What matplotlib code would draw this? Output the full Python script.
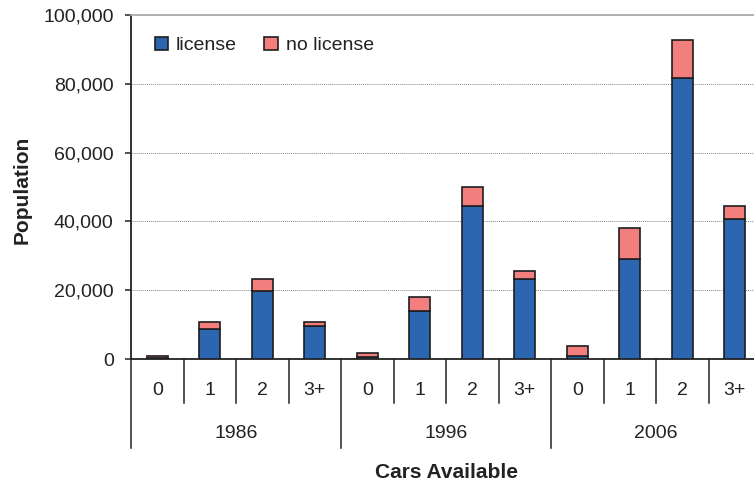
import matplotlib
matplotlib.use("Agg")
import matplotlib.pyplot as plt
import numpy as np
from matplotlib.transforms import blended_transform_factory

plt.rcParams['font.family'] = ['Liberation Sans', 'DejaVu Sans']

years = ["1986", "1996", "2006"]
cars = ["0", "1", "2", "3+"]
license = [400, 8600, 19900, 9600,
           700, 14000, 44400, 23200,
           900, 29100, 81800, 40700]
no_license = [500, 2200, 3400, 1200,
              1000, 3900, 5600, 2300,
              2900, 8900, 10900, 3800]

blue = '#2D66B0'
pink = '#F37E7E'
edge = '#1e1e1e'

fig = plt.figure(figsize=(7.54, 4.87), dpi=100)
ax = fig.add_axes([131/754, 128/487, 630/754, 344/487])

n = len(license)
x = np.arange(n)
ax.bar(x, license, width=0.4, color=blue, edgecolor=edge, linewidth=1.2, label='license', zorder=3)
ax.bar(x, no_license, width=0.4, bottom=license, color=pink, edgecolor=edge, linewidth=1.2,
       label='no license', zorder=3)

ax.set_xlim(-0.5, n - 0.5)
ax.set_ylim(0, 100000)
ax.set_yticks(np.arange(0, 100001, 20000))
ax.set_yticklabels([f"{v:,}" for v in range(0, 100001, 20000)])
ax.tick_params(axis='y', length=4.5, width=1.1, pad=8, labelsize=14, colors='#222222')
ax.tick_params(axis='x', bottom=False, labelbottom=False)
for v in range(20000, 100000, 20000):
    ax.axhline(v, color='#888888', linestyle=(0, (1, 1)), linewidth=0.7, zorder=1)

ax.spines['left'].set_color('#222222')
ax.spines['left'].set_linewidth(1.3)
ax.spines['bottom'].set_color('#222222')
ax.spines['bottom'].set_linewidth(1.3)
ax.spines['top'].set_color('#aaaaaa')
ax.spines['top'].set_linewidth(1.3)
ax.spines['right'].set_visible(False)

trans = blended_transform_factory(ax.transData, ax.transAxes)
ng = len(cars)
for i in range(n + 1):
    bx = i - 0.5
    if i % ng == 0:
        y0 = -0.259
    else:
        y0 = -0.128
    ax.plot([bx, bx], [0, y0], transform=trans, color='#222222', lw=1.1, clip_on=False)
for i in range(n):
    ax.text(i, -0.092, cars[i % ng], transform=trans, ha='center', va='center',
            fontsize=14, color='#222222')
for g, yr in enumerate(years):
    ax.text(g * ng + (ng - 1) / 2, -0.218, yr, transform=trans, ha='center', va='center',
            fontsize=14, color='#222222')

fig.text(446/754, 1 - 473/487, "Cars Available", ha='center', va='center',
         fontsize=15, fontweight='bold', color='#222222')
fig.text(22/754, 1 - 190/487, "Population", ha='center', va='center', rotation=90,
         fontsize=15, fontweight='bold', color='#222222')

leg = ax.legend(loc='upper left', bbox_to_anchor=(0.025, 0.96), ncol=2, frameon=False,
                fontsize=14, handlelength=0.7, handleheight=0.7, handletextpad=0.4,
                columnspacing=1.4, borderaxespad=0)
for t in leg.get_texts():
    t.set_color('#222222')

fig.savefig("out.png", dpi=100)
